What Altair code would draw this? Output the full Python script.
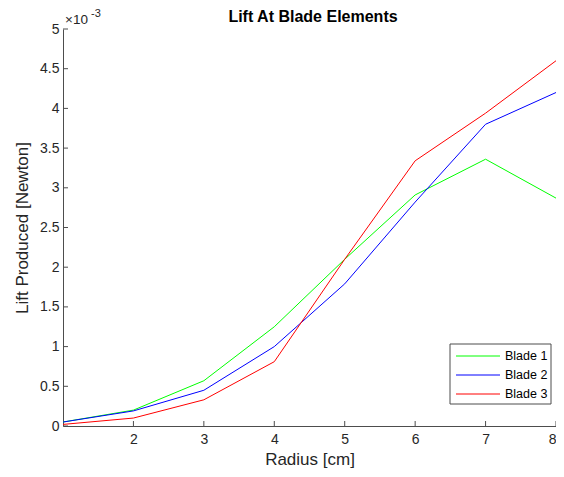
import altair as alt
import pandas as pd

radius = [1, 2, 3, 4, 5, 6, 7, 8]
blade1 = [0.05, 0.20, 0.57, 1.25, 2.10, 2.91, 3.36, 2.87]
blade2 = [0.05, 0.19, 0.45, 1.00, 1.79, 2.82, 3.80, 4.20]
blade3 = [0.02, 0.10, 0.33, 0.81, 2.10, 3.34, 3.94, 4.60]
series = ["Blade 1", "Blade 2", "Blade 3"]
colors = ["#00ff00", "#0000ff", "#ff0000"]
x_ticks = [2, 3, 4, 5, 6, 7, 8]
y_ticks = [0, 0.5, 1, 1.5, 2, 2.5, 3, 3.5, 4, 4.5, 5]

rows = []
for name, vals in zip(series, [blade1, blade2, blade3]):
    for r, v in zip(radius, vals):
        rows.append({"Radius": r, "Lift": v, "Blade": name})
df = pd.DataFrame(rows)
leg = pd.DataFrame({"Blade": series})

W, H = 493, 397
TXT = "#262626"
AX = "#4d4d4d"
FONT = "Liberation Sans"

xscale = alt.Scale(domain=[1, 8], nice=False)
yscale = alt.Scale(domain=[0, 5], nice=False)
cscale = alt.Scale(domain=series, range=colors)

lines = alt.Chart(df).mark_line(strokeWidth=1, clip=False).encode(
    x=alt.X("Radius:Q", scale=xscale,
            axis=alt.Axis(values=x_ticks, title="Radius [cm]", format="d")),
    y=alt.Y("Lift:Q", scale=yscale,
            axis=alt.Axis(values=y_ticks, title="Lift Produced [Newton]", format="~g")),
    color=alt.Color("Blade:N", scale=cscale, legend=None),
    order="Radius:Q",
)

xt = alt.Chart(pd.DataFrame({"t": x_ticks})).mark_rule(color=AX, strokeWidth=1).encode(
    x=alt.X("t:Q", scale=xscale), y=alt.value(H), y2=alt.value(H - 5))
yt = alt.Chart(pd.DataFrame({"t": y_ticks})).mark_rule(color=AX, strokeWidth=1).encode(
    y=alt.Y("t:Q", scale=yscale, axis=None), x=alt.value(0), x2=alt.value(5))

def label(s, size, x, y, weight="normal", color=TXT, align="left"):
    return alt.Chart(pd.DataFrame({"s": [s]})).mark_text(
        align=align, baseline="middle", fontSize=size, font=FONT, color=color,
        fontWeight=weight).encode(text="s:N", x=alt.value(x), y=alt.value(y))

title = label("Lift At Blade Elements", 16, 250, -12, weight="bold", color="black", align="center")
exp_base = label("×10", 13.5, 2, -9)
exp_pow = label("-3", 11, 28, -15)

box = alt.Chart(pd.DataFrame({"b": [1]})).mark_rect(
    fill="white", stroke=AX, strokeWidth=1).encode(
    x=alt.value(387), x2=alt.value(488), y=alt.value(315), y2=alt.value(375))
lscale = alt.Scale(type="point", domain=series, range=[327, 365], padding=0)
leg_lines = alt.Chart(leg).mark_rule(strokeWidth=1).encode(
    y=alt.Y("Blade:N", scale=lscale, axis=None),
    x=alt.value(393), x2=alt.value(437),
    color=alt.Color("Blade:N", scale=cscale, legend=None))
leg_text = alt.Chart(leg).mark_text(
    align="left", baseline="middle", fontSize=12.5, font=FONT, color="black").encode(
    y=alt.Y("Blade:N", scale=lscale, axis=None),
    x=alt.value(442), text="Blade:N")

chart = alt.layer(lines, xt, yt, title, exp_base, exp_pow, box, leg_lines, leg_text).resolve_scale(
    y="independent").properties(
    width=W, height=H,
    autosize=alt.AutoSizeParams(type="none"),
    padding={"left": 55, "top": 21, "right": 0, "bottom": 43},
).configure_view(stroke=None).configure_axis(
    domainColor=AX, domainWidth=1, ticks=False, grid=False,
    labelFont=FONT, labelFontSize=14, labelColor=TXT,
    titleFont=FONT, titleFontSize=17, titleColor=TXT, titleFontWeight="normal",
).configure_axisX(labelPadding=6, titlePadding=5).configure_axisY(
    labelPadding=4, titlePadding=8)

chart.save("out.html", embed_options={"renderer": "svg", "actions": False})
